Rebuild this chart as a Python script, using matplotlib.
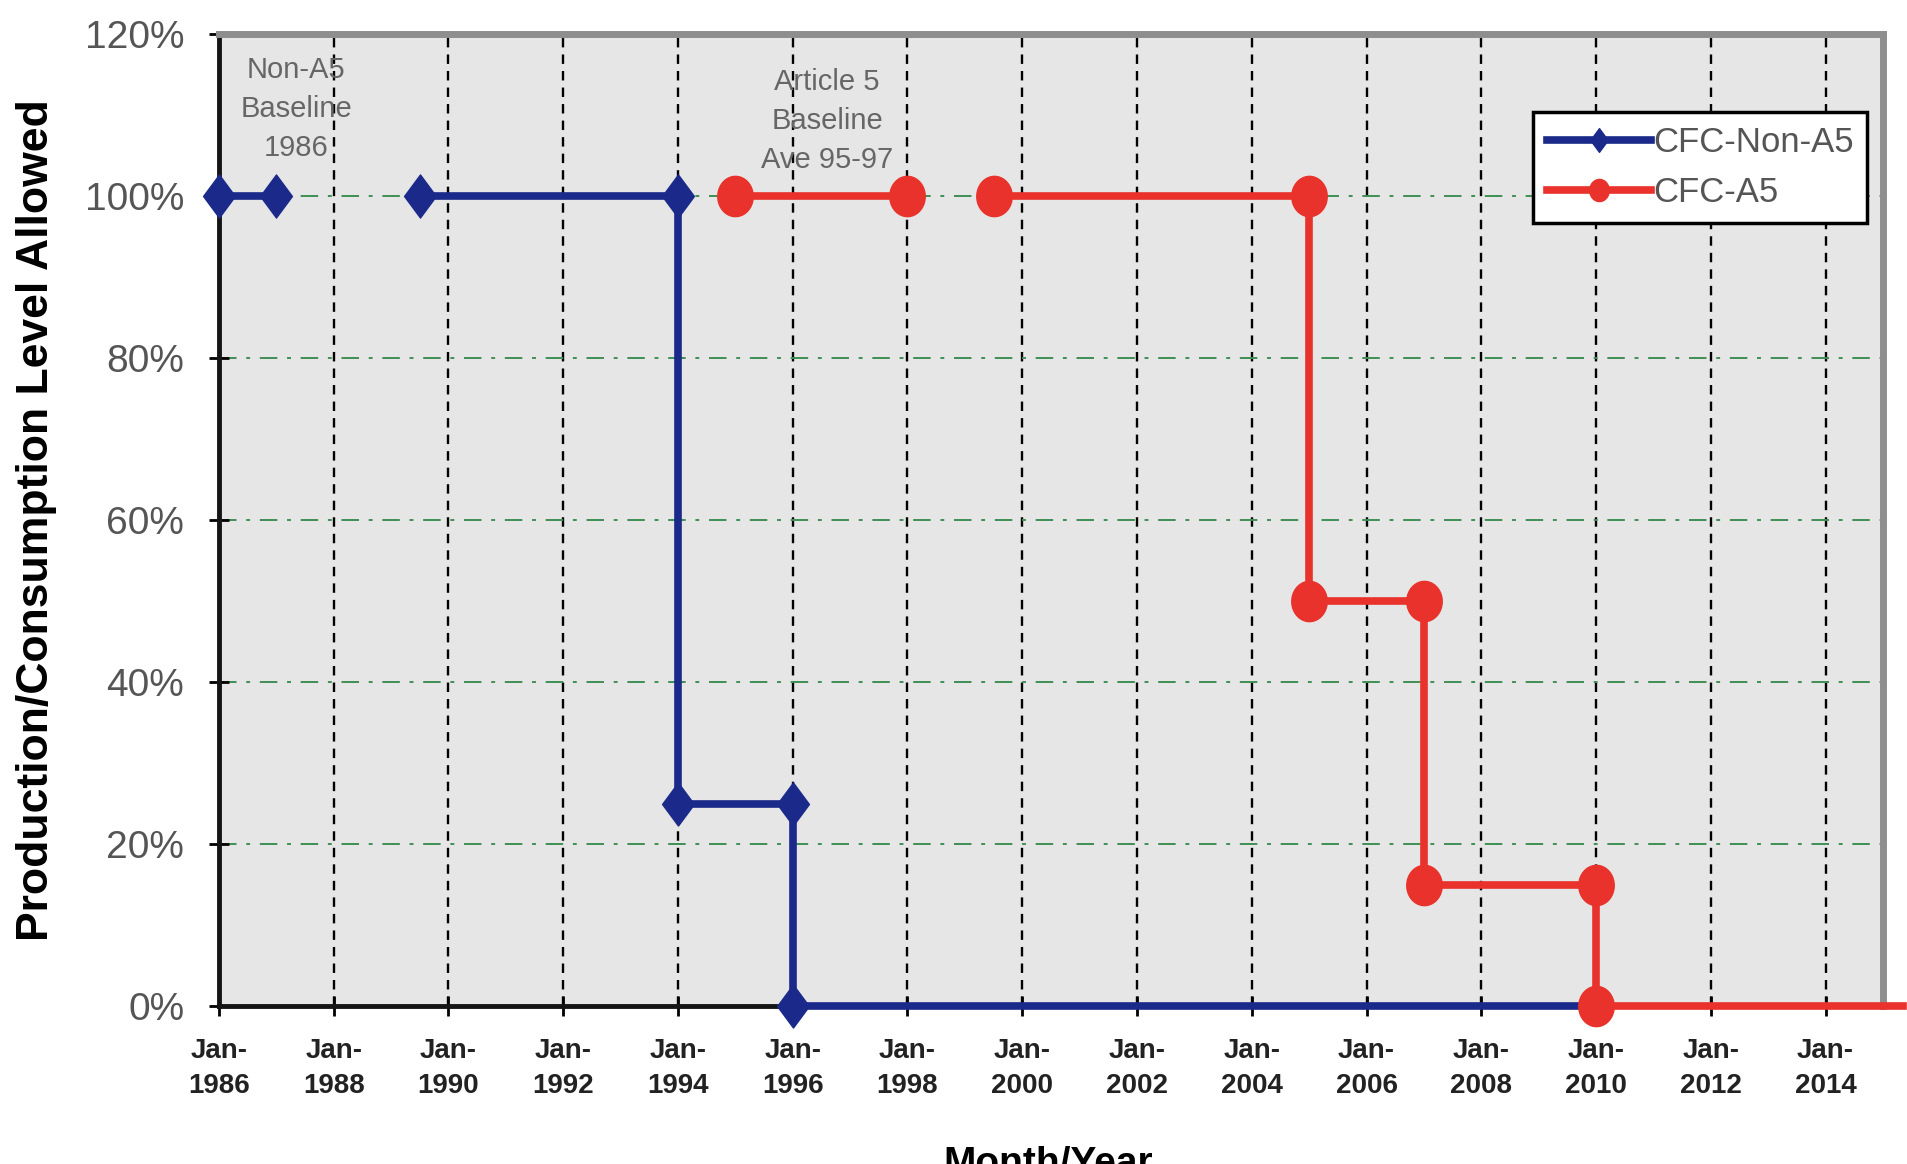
import matplotlib
matplotlib.use("Agg")
import matplotlib.pyplot as plt
from matplotlib.ticker import FixedLocator, FuncFormatter
from matplotlib.path import Path
import numpy as np

# data (year as decimal, level in %)
non_a5_year = [1986, 1987, np.nan, 1989.5, 1994, 1994, 1996, 1996, 2010]
non_a5_level = [100, 100, np.nan, 100, 100, 25, 25, 0, 0]

a5_year = [1995, 1998, np.nan, 1999.5, 2005, 2005, 2007, 2007, 2010, 2010, 2015.35]
a5_level = [100, 100, np.nan, 100, 100, 50, 50, 15, 15, 0, 0]

tick_years = list(range(1986, 2015, 2))
y_ticks = [0, 20, 40, 60, 80, 100, 120]

blue = '#1b2a8a'
red = '#e8322b'
green = '#3f8f55'
label_gray = '#555555'

# slightly tall markers, like the stretched original
diamond = Path([(0, 1), (0.74, 0), (0, -1), (-0.74, 0), (0, 1)],
               [Path.MOVETO, Path.LINETO, Path.LINETO, Path.LINETO, Path.CLOSEPOLY])
theta = np.linspace(0, 2 * np.pi, 60)
ellipse = Path(np.column_stack([0.88 * np.cos(theta), np.sin(theta)]), closed=True)

plt.rcParams['font.family'] = ['Liberation Sans', 'DejaVu Sans']

fig = plt.figure(figsize=(19.07, 11.64), dpi=100)
ax = fig.add_axes([0.1148, 0.1357, 0.8726, 0.8351])
ax.set_facecolor('#e6e6e6')

ax.plot(non_a5_year, non_a5_level, color=blue, lw=5.5, marker=diamond, ms=31,
        markevery=[0, 1, 3, 4, 5, 6, 7], clip_on=False, zorder=3, label='CFC-Non-A5')
ax.plot(a5_year, a5_level, color=red, lw=5.5, marker=ellipse, ms=29,
        markevery=[0, 1, 3, 4, 5, 6, 7, 8, 9], clip_on=False, zorder=4, label='CFC-A5')

ax.set_xlim(1986, 2015)
ax.set_ylim(0, 120)

ax.xaxis.set_major_locator(FixedLocator(tick_years))
ax.xaxis.set_major_formatter(FuncFormatter(lambda v, p: 'Jan-\n%d' % round(v)))
ax.yaxis.set_major_locator(FixedLocator(y_ticks))
ax.yaxis.set_major_formatter(FuncFormatter(lambda v, p: '%d%%' % round(v)))

ax.xaxis.grid(True, color='black', ls=(0, (4, 3)), lw=1.7)
ax.yaxis.grid(True, color=green, ls=(0, (9, 5, 2, 5)), lw=1.4)
ax.set_axisbelow(True)

for s in ['left', 'bottom']:
    ax.spines[s].set_linewidth(3.5)
    ax.spines[s].set_color('#151515')
for s in ['top', 'right']:
    ax.spines[s].set_linewidth(5)
    ax.spines[s].set_color('#8e8e8e')

ax.tick_params(axis='y', direction='inout', length=14, width=2, pad=18,
               labelsize=28, labelcolor=label_gray)
ax.tick_params(axis='x', direction='inout', length=14, width=2, pad=16,
               labelsize=20, labelcolor='#222222')
for t in ax.get_xticklabels():
    t.set_fontweight('bold')
    t.set_linespacing(1.45)

ax.text(1987.35, 110.8, 'Non-A5\nBaseline\n1986', ha='center', va='center',
        fontsize=21, color='#666666', linespacing=1.5)
ax.text(1996.6, 109.3, 'Article 5\nBaseline\nAve 95-97', ha='center', va='center',
        fontsize=21, color='#666666', linespacing=1.5)

leg = ax.legend(loc='upper left', bbox_to_anchor=(1533 / 1907, 1 - 112 / 1164),
                bbox_transform=fig.transFigure, frameon=True, fancybox=False,
                fontsize=25, labelcolor=label_gray, handlelength=3.0,
                handletextpad=0.05, borderpad=0.4, labelspacing=0.5,
                markerscale=0.55, borderaxespad=0)
leg.get_frame().set_edgecolor('black')
leg.get_frame().set_linewidth(2.5)
leg.get_frame().set_facecolor('white')
leg.get_frame().set_alpha(1)

fig.text(37 / 1907, 0.553, 'Production/Consumption Level Allowed', rotation=90,
         ha='center', va='center', fontsize=32, fontweight='bold', color='black')
fig.text(0.5497, 1 - 1146 / 1164, 'Month/Year', ha='center', va='top',
         fontsize=28, fontweight='bold', color='black')

fig.savefig('out.png', dpi=100)
